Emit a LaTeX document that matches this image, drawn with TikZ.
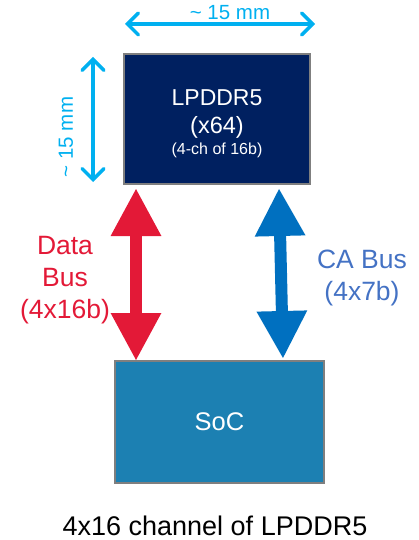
\documentclass[tikz,border=0pt]{standalone}
\usepackage{fontspec}
\setmainfont{Liberation Sans}
\usetikzlibrary{arrows.meta,calc}

\definecolor{memnavy}{HTML}{002060}
\definecolor{socblue}{HTML}{1C80B2}
\definecolor{edgegrey}{HTML}{7F7F7F}
\definecolor{dimblue}{HTML}{00B0F0}
\definecolor{datared}{HTML}{E31937}
\definecolor{cablue}{HTML}{0070C0}
\definecolor{catext}{HTML}{4472C4}

\tikzset{
  chip/.style={draw=edgegrey, line width=2pt, inner sep=0pt},
  dimarrow/.style={draw=dimblue, line width=3.4pt, line cap=round,
    {Straight Barb[length=11pt,width=22pt,line cap=round]}-{Straight Barb[length=11pt,width=22pt,line cap=round]}},
  busarrow/.style={line width=12pt,
    {Triangle[length=48pt,width=47pt]}-{Triangle[length=48pt,width=47pt]}},
  dimlabel/.style={text=dimblue, font=\fontsize{20.5}{24}\selectfont},
  buslabel/.style={font=\fontsize{26.5}{32}\selectfont, align=center},
}

\begin{document}
\begin{tikzpicture}[x=1pt,y=-1pt]
  \useasboundingbox (0,0) rectangle (419,540);

  % memory package and SoC
  \node[chip, fill=memnavy, minimum width=186pt, minimum height=130pt] (mem) at (217,119) {};
  \node[text=white, font=\fontsize{23}{27}\selectfont] (memname) at (217,98) {LPDDR5};
  \node[text=white, font=\fontsize{23.5}{27}\selectfont] (memwidth) at (217,127) {(x64)};
  \node[text=white, font=\fontsize{16}{19}\selectfont] (memch) at (217,150) {(4-ch of 16b)};

  \node[chip, fill=socblue, minimum width=209pt, minimum height=122pt,
        text=white, font=\fontsize{25.5}{30}\selectfont] (soc) at (219.5,422) {SoC};

  % package dimensions
  \coordinate (hl) at ($(mem.north west)+(2,-29)$);
  \coordinate (hr) at ($(mem.north east)+(4,-29)$);
  \draw[dimarrow] (hl) -- (hr);
  \node[dimlabel, inner sep=0pt] (hdim) at (230,13) {\textasciitilde{} 15 mm};

  \coordinate (vt) at ($(mem.north west)+(-30,4)$);
  \coordinate (vb) at ($(mem.south west)+(-30,-3)$);
  \draw[dimarrow] (vt) -- (vb);
  \node[dimlabel, rotate=90] (vdim) at (66,137) {\textasciitilde{} 15 mm};

  % data and command/address buses
  \coordinate (dtop) at ($(mem.south west)+(13,3)$);
  \coordinate (dbot) at ($(soc.north west)+(22,1)$);
  \draw[busarrow, datared] (dtop) -- (dbot);
  \node[buslabel, text=datared] (dlabel) at (65,280) {Data\\Bus\\(4x16b)};

  \coordinate (ctop) at ($(mem.south east)+(-32,3)$);
  \coordinate (cbot) at ($(soc.north east)+(-42,-1)$);
  \draw[busarrow, cablue] (ctop) -- (cbot);
  \node[buslabel, text=catext] (clabel) at (362,278) {CA Bus\\(4x7b)};

  % caption
  \node[font=\fontsize{27}{31}\selectfont, inner sep=0pt] (caption) at (215,526) {4x16 channel of LPDDR5};
\end{tikzpicture}
\end{document}
